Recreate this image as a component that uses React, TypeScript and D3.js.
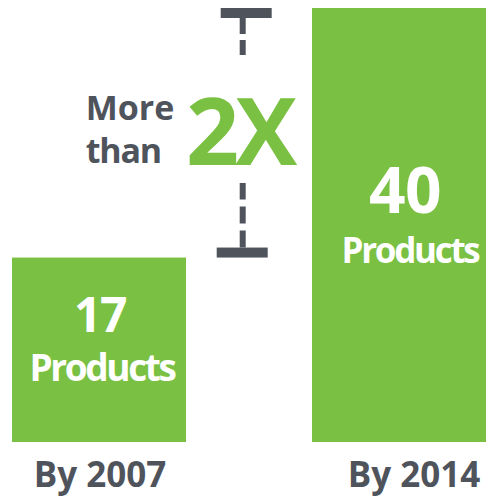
import React from 'react';
import * as d3 from 'd3';

// Chart values
const categories = ['By 2007', 'By 2014'];
const productCounts = [17, 40];
const valueLabels = ['17', '40'];
const unitLabel = 'Products';
const growthPrefix = ['More', 'than'];
const growthLabel = '2X';

const WIDTH = 490;
const HEIGHT = 497;
const GREEN = '#7ac143';
const GRAY = '#4f545c';
const FONT = '"Open Sans", "Noto Sans", sans-serif';

export default function App() {
    const x = d3.scaleBand<string>()
        .domain(categories)
        .range([12, 486])
        .paddingInner(0.42)
        .paddingOuter(0);

    const y = d3.scaleLinear()
        .domain([0, 40])
        .range([442, 8]);

    const bw = x.bandwidth();
    const leftEnd = (x(categories[0]) || 0) + bw;
    const gap = (x(categories[1]) || 0) - leftEnd;
    const bx = leftEnd + gap * 0.45; // bracket stem position

    const yHigh = y(productCounts[1]);
    const yLow = y(productCounts[0]);

    return (
        <svg width={WIDTH} height={HEIGHT} style={{ position: 'absolute', left: 0, top: 0 }}
            fontFamily={FONT} fontWeight={700}>
            <rect width={WIDTH} height={HEIGHT} fill="#fff" />

            {/* bars */}
            {categories.map((c, i) => (
                <rect key={c} x={x(c)} y={y(productCounts[i])} width={bw}
                    height={y(0) - y(productCounts[i])} fill={GREEN} />
            ))}

            {/* values inside bars */}
            <g fill="#fff" textAnchor="middle">
                <text x={(x(categories[0]) || 0) + bw / 2 + 1} y={yLow + 74} fontSize={48}
                    letterSpacing={-1.5}>{valueLabels[0]}</text>
                <text x={(x(categories[0]) || 0) + bw / 2 + 3} y={yLow + 123} fontSize={37}
                    letterSpacing={-2.4}>{unitLabel}</text>
                <text x={(x(categories[1]) || 0) + bw / 2 + 6} y={yHigh + 205} fontSize={64}
                    letterSpacing={-0.5}>{valueLabels[1]}</text>
                <text x={(x(categories[1]) || 0) + bw / 2 + 11} y={yHigh + 255} fontSize={35}
                    letterSpacing={-2.3}>{unitLabel}</text>
            </g>

            {/* category labels */}
            {categories.map((c, i) => (
                <text key={'c' + c} x={(x(c) || 0) + bw / 2 + (i ? 15 : 1)} y={487}
                    textAnchor="middle" fill={GRAY} fontSize={35}>{c}</text>
            ))}

            {/* bracket */}
            <g fill={GRAY} stroke="none">
                <rect x={bx - 22} y={yHigh} width={51} height={10} />
                <rect x={bx - 26} y={yLow - 10} width={51} height={10} />
            </g>
            <g stroke={GRAY} strokeWidth={6}>
                <line x1={bx} x2={bx} y1={yHigh + 10} y2={55} strokeDasharray="16,6" />
                <line x1={bx} x2={bx} y1={yLow - 10} y2={183} strokeDasharray="17,7" />
            </g>

            {/* growth label */}
            <text x={bx - 157} y={120} fill={GRAY} fontSize={34}>{growthPrefix[0]}</text>
            <text x={bx - 157} y={163} fill={GRAY} fontSize={34} letterSpacing={-1.2}>{growthPrefix[1]}</text>
            <text x={bx - 3} y={165} fill={GREEN} fontSize={93} textAnchor="middle"
                letterSpacing={-4}>{growthLabel}</text>
        </svg>
    );
}
